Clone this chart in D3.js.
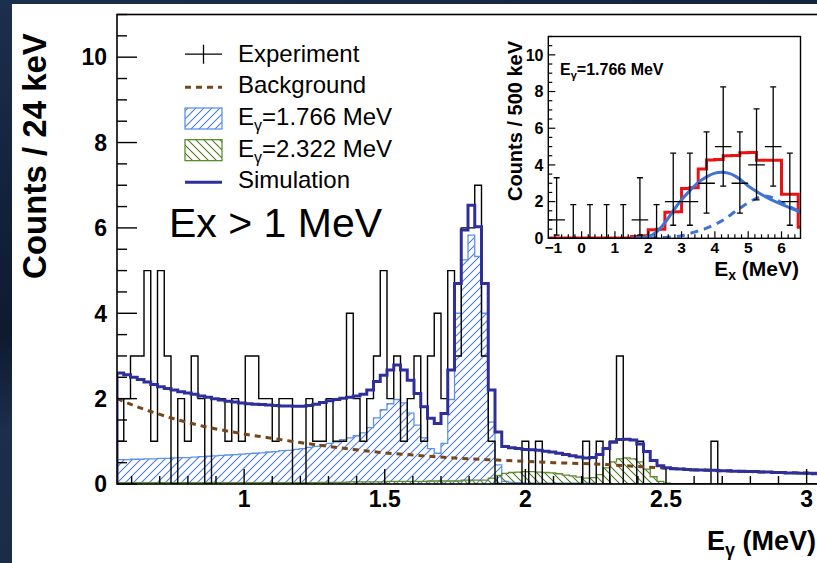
<!DOCTYPE html>
<html>
<head>
<meta charset="utf-8">
<script src="https://cdn.jsdelivr.net/npm/d3@7"></script>
<style>
  body { margin: 0; background: #fff; }
  svg { display: block; }
  text { font-family: "Liberation Sans", Arial, Helvetica, sans-serif; fill: #000; }
</style>
</head>
<body>
<svg id="chart" width="817" height="563"></svg>
<script>
// ---------- main spectrum: 24 keV bins starting at 0.548 MeV ----------
const binStart = 0.548;
const binWidth = 0.024;

const counts = [
  1,2,3,3,5,1,5,3,0,2, 1,3,2,0,2,2,1,2,1,3,
  3,2,2,1,2,2,0,0,2,1, 1,2,1,1,4,2,1,2,3,5,
  2,3,1,2,3,1,3,4,2,5, 3,6,6,7,3,1,0,0,0,0,
  1,0,1,0,0,0,0,0,0,1, 0,1,0,1,3,0,0,1,0,0,
  0,0,0,0,0,0,0,0,1,0, 0,0,0,0,0,0,0,0,0,0,
  0,0,0,0
];

const simulation = [
  2.60,2.56,2.50,2.45,2.39,2.33,2.28,2.24,2.20,2.16,
  2.13,2.10,2.06,2.03,2.00,1.97,1.94,1.92,1.90,1.88,
  1.87,1.86,1.85,1.84,1.83,1.83,1.82,1.82,1.84,1.87,
  1.91,1.95,1.98,2.01,2.03,2.06,2.10,2.20,2.40,2.55,
  2.67,2.79,2.67,2.43,2.12,1.81,1.54,1.42,1.65,2.67,
  4.70,5.95,6.53,6.03,4.70,2.20,1.22,0.88,0.85,0.83,
  0.81,0.80,0.79,0.77,0.75,0.72,0.69,0.66,0.63,0.61,
  0.62,0.69,0.83,0.98,1.04,1.05,1.03,0.94,0.76,0.55,
  0.43,0.38,0.36,0.35,0.34,0.33,0.33,0.32,0.32,0.31,
  0.31,0.30,0.30,0.29,0.29,0.28,0.28,0.27,0.27,0.26,
  0.26,0.25,0.25,0.24
];

const line1766 = [
  0.57,0.57,0.58,0.58,0.59,0.59,0.60,0.60,0.61,0.62,
  0.62,0.63,0.64,0.65,0.66,0.67,0.68,0.69,0.70,0.71,
  0.72,0.73,0.75,0.76,0.78,0.79,0.81,0.83,0.86,0.88,
  0.92,0.95,0.99,1.04,1.08,1.13,1.20,1.32,1.55,1.74,
  1.88,1.98,1.90,1.66,1.38,1.08,0.83,0.72,0.95,1.98,
  4.00,5.25,5.83,5.33,4.00,1.45,0.45,0.06,0.04,0.03,
  0.02,0.02,0.02,0.02,0.02,0.02,0.02,0.02,0.02,0.02,
  0.02,0,0,0,0,0,0,0,0,0,
  0,0,0,0,0,0,0,0,0,0,
  0,0,0,0,0,0,0,0,0,0,
  0,0,0,0
];

const line2322 = [
  0.03,0.03,0.03,0.03,0.03,0.03,0.03,0.03,0.03,0.03,
  0.03,0.03,0.03,0.03,0.03,0.03,0.03,0.03,0.03,0.03,
  0.03,0.03,0.03,0.03,0.03,0.03,0.03,0.03,0.03,0.03,
  0.04,0.04,0.04,0.04,0.05,0.05,0.05,0.05,0.05,0.05,
  0.06,0.06,0.06,0.06,0.06,0.06,0.07,0.07,0.07,0.07,
  0.07,0.09,0.09,0.09,0.09,0.14,0.20,0.25,0.27,0.28,
  0.29,0.29,0.28,0.27,0.26,0.24,0.21,0.19,0.16,0.14,
  0.15,0.22,0.38,0.52,0.59,0.61,0.59,0.52,0.35,0.17,
  0.06,0.02,0,0,0,0,0,0,0,0,
  0,0,0,0,0,0,0,0,0,0,
  0,0,0,0
];

// smooth background shape (energy in MeV, counts / 24 keV)
const bgEnergy = [0.548,0.60,0.65,0.70,0.75,0.80,0.85,0.90,0.95,1.00,1.05,1.10,1.15,1.20,
                  1.30,1.40,1.50,1.60,1.70,1.80,1.90,2.00,2.10,2.20,2.30,2.40,2.50,2.60,
                  2.70,2.80,2.90,3.044];
const bgCounts = [2.00,1.86,1.74,1.63,1.53,1.44,1.36,1.29,1.23,1.17,1.12,1.07,1.02,0.97,
                  0.88,0.80,0.73,0.68,0.63,0.59,0.56,0.53,0.50,0.48,0.45,0.41,0.37,0.335,
                  0.31,0.29,0.27,0.25];

const xTicksMain = [1, 1.5, 2, 2.5, 3];
const xTickLabelsMain = ["1", "1.5", "2", "2.5", "3"];
const yTicksMain = [0, 2, 4, 6, 8, 10];

// ---------- inset: excitation energy, 500 keV bins from -1 MeV ----------
const insetStart = -1;
const insetWidth = 0.5;
const insetCounts  = [1,0,0,0,0,1,0,2,2,3,5,3,4,5,2];
const insetErrLow  = [0.17,0,0,0,0,0.17,0,0.71,0.71,1.37,2.84,1.37,2.09,2.84,0.71];
const insetErrHigh = [3.30,1.84,1.84,1.84,1.84,3.30,1.84,4.64,4.64,5.80,8.25,5.80,7.05,8.25,4.64];

// summed model in 250 keV bins from -1 MeV
const fitStart = -1;
const fitWidth = 0.25;
const fitValues = [
  0.02,0.02,0.02,0.02,0.02,0.02,0.02,0.02,0.02,0.02,
  0.10,0.14,0.46,0.50,1.42,1.45,2.72,2.75,3.78,4.27,
  4.30,4.50,4.52,4.66,4.68,4.26,4.25,4.25,2.40,2.40,
  0.60
];

const feedE = [1.5,2.0,2.25,2.5,2.75,3.0,3.25,3.5,3.75,4.0,4.2,4.4,4.6,4.8,5.0,5.25,5.5,5.75,6.0,6.25,6.57];
const feedV = [0.0,0.1,0.35,0.85,1.5,2.1,2.6,3.05,3.35,3.55,3.6,3.55,3.4,3.15,2.85,2.55,2.28,2.05,1.85,1.66,1.42];
const tailE = [1.6,2.0,2.5,3.0,3.25,3.75,4.25,4.75,5.25,5.5,5.75,6.0,6.25,6.57];
const tailV = [0.0,0.01,0.05,0.14,0.27,0.55,1.0,1.64,2.18,2.3,2.2,1.95,1.72,1.45];

const xTicksInset = [-1, 0, 1, 2, 3, 4, 5, 6];
const xTickLabelsInset = ["\u22121", "0", "1", "2", "3", "4", "5", "6"];
const yTicksInset = [0, 2, 4, 6, 8, 10];

// ---------- colours ----------
const cSim = "#2f2f9c", cBg = "#74461a", cBlue = "#4a7ddc", cBlueEdge = "#5e92ea",
      cGreen = "#4f7a1f", cGreenEdge = "#5f8a30", cRed = "#ee1111", cFeed = "#3f74d6";

const svg = d3.select("#chart");
const W = 817, H = 563;
const defs = svg.append("defs");

// page backdrop
const g0 = defs.append("linearGradient").attr("id", "backdrop")
  .attr("x1", 0).attr("y1", 0).attr("x2", 0.3).attr("y2", 1);
[["0%", "#1d2f4e"], ["35%", "#12203a"], ["55%", "#0e1a2e"], ["70%", "#1c2e4c"], ["100%", "#1a2b46"]]
  .forEach(([o, c]) => g0.append("stop").attr("offset", o).attr("stop-color", c));
svg.append("rect").attr("width", W).attr("height", H).attr("fill", "url(#backdrop)");
svg.append("rect").attr("x", 12).attr("y", 4).attr("width", W - 12).attr("height", H - 4).attr("fill", "#fff");

// hatch patterns
function hatch(id, color, forward) {
  const p = defs.append("pattern").attr("id", id).attr("patternUnits", "userSpaceOnUse")
    .attr("width", 8).attr("height", 8);
  const d = forward ? "M-2,2 L2,-2 M0,8 L8,0 M6,10 L10,6" : "M-2,6 L2,10 M0,0 L8,8 M6,-2 L10,2";
  p.append("path").attr("d", d).attr("stroke", color).attr("stroke-width", 1.1).attr("fill", "none");
}
hatch("hatchBlue", cBlue, true);
hatch("hatchGreen", cGreen, false);

// ---------- main plot ----------
const frame = { left: 117, right: 819, top: 14.5, bottom: 484 };
const x = d3.scaleLinear().domain([binStart, binStart + binWidth * counts.length]).range([frame.left, frame.right]);
const y = d3.scaleLinear().domain([0, 11]).range([frame.bottom, frame.top]);
const edges = d3.range(counts.length + 1).map(i => binStart + i * binWidth);

defs.append("clipPath").attr("id", "mainClip").append("rect")
  .attr("x", frame.left).attr("y", frame.top).attr("width", frame.right - frame.left).attr("height", frame.bottom - frame.top);

function stepPoints(ed, vals) {
  const pts = [[ed[0], 0]];
  vals.forEach((v, i) => { pts.push([ed[i], v]); pts.push([ed[i + 1], v]); });
  pts.push([ed[ed.length - 1], 0]);
  return pts;
}
const mainLine = d3.line().x(d => x(d[0])).y(d => y(d[1]));
const mainArea = d3.area().x(d => x(d[0])).y0(y(0)).y1(d => y(d[1]));

const plot = svg.append("g").attr("clip-path", "url(#mainClip)");

// hatched components
plot.append("path").attr("d", mainArea(stepPoints(edges, line1766))).attr("fill", "url(#hatchBlue)");
plot.append("path").attr("d", mainLine(stepPoints(edges, line1766))).attr("fill", "none")
  .attr("stroke", cBlueEdge).attr("stroke-width", 1.3);
plot.append("path").attr("d", mainArea(stepPoints(edges, line2322))).attr("fill", "url(#hatchGreen)");
plot.append("path").attr("d", mainLine(stepPoints(edges, line2322))).attr("fill", "none")
  .attr("stroke", cGreenEdge).attr("stroke-width", 1.3);

// measured spectrum
plot.append("path").attr("d", mainLine(stepPoints(edges, counts))).attr("fill", "none")
  .attr("stroke", "#000").attr("stroke-width", 1.4);

// background
const bgLine = d3.line().curve(d3.curveMonotoneX).x(d => x(d[0])).y(d => y(d[1]));
plot.append("path").attr("d", bgLine(bgEnergy.map((e, i) => [e, bgCounts[i]]))).attr("fill", "none")
  .attr("stroke", cBg).attr("stroke-width", 3).attr("stroke-dasharray", "6,5");

// total simulation
plot.append("path").attr("d", mainLine(stepPoints(edges, simulation))).attr("fill", "none")
  .attr("stroke", cSim).attr("stroke-width", 3);

// frame
svg.append("rect").attr("x", frame.left).attr("y", frame.top)
  .attr("width", frame.right - frame.left).attr("height", frame.bottom - frame.top)
  .attr("fill", "none").attr("stroke", "#000").attr("stroke-width", 1.6);

// axes ticks
const axisG = svg.append("g").attr("stroke", "#000").attr("stroke-width", 1.4);
d3.range(0, 11.01, 0.5).forEach(v => {
  const major = yTicksMain.includes(v);
  axisG.append("line").attr("x1", frame.left).attr("x2", frame.left + (major ? 20 : 10))
    .attr("y1", y(v)).attr("y2", y(v));
});
d3.range(6, 31, 1).map(k => k / 10).forEach(v => {
  const major = xTicksMain.some(t => Math.abs(t - v) < 1e-6);
  axisG.append("line").attr("x1", x(v)).attr("x2", x(v))
    .attr("y1", frame.bottom).attr("y2", frame.bottom - (major ? 15 : 8));
});

// tick labels
yTicksMain.forEach(v => svg.append("text").attr("x", 107).attr("y", y(v) + 8.3)
  .attr("text-anchor", "end").attr("font-size", 23).attr("font-weight", "bold").text(v));
xTicksMain.forEach((v, i) => svg.append("text").attr("x", x(v)).attr("y", 507)
  .attr("text-anchor", "middle").attr("font-size", 23).attr("font-weight", "bold").text(xTickLabelsMain[i]));

// axis titles
svg.append("text").attr("transform", "translate(46,156) rotate(-90)").attr("text-anchor", "middle")
  .attr("font-size", 33).attr("font-weight", "bold").text("Counts / 24 keV");
const xt = svg.append("text").attr("x", 816).attr("y", 550).attr("text-anchor", "end")
  .attr("font-size", 27).attr("font-weight", "bold");
xt.append("tspan").text("E");
xt.append("tspan").attr("font-size", 18).attr("dy", 6).text("\u03b3");
xt.append("tspan").attr("dy", -6).text(" (MeV)");

// legend
const legend = svg.append("g");
const rowBase = r => 61.7 + 31.65 * r;
const symL = 185, symR = 222, txtX = 238;
legend.append("line").attr("x1", symL).attr("x2", symR).attr("y1", rowBase(0) - 7.5).attr("y2", rowBase(0) - 7.5)
  .attr("stroke", "#000").attr("stroke-width", 1.3);
legend.append("line").attr("x1", (symL + symR) / 2).attr("x2", (symL + symR) / 2)
  .attr("y1", rowBase(0) - 17).attr("y2", rowBase(0) + 2).attr("stroke", "#000").attr("stroke-width", 1.3);
legend.append("line").attr("x1", symL).attr("x2", symR).attr("y1", rowBase(1) - 6).attr("y2", rowBase(1) - 6)
  .attr("stroke", cBg).attr("stroke-width", 3).attr("stroke-dasharray", "6,5");
[[2, "hatchBlue", cBlueEdge], [3, "hatchGreen", cGreenEdge]].forEach(([r, pat, edge]) => {
  legend.append("rect").attr("x", symL).attr("y", rowBase(r) - 17).attr("width", symR - symL).attr("height", 21)
    .attr("fill", `url(#${pat})`).attr("stroke", edge).attr("stroke-width", 1.3);
});
legend.append("line").attr("x1", symL).attr("x2", symR).attr("y1", rowBase(4) - 6).attr("y2", rowBase(4) - 6)
  .attr("stroke", cSim).attr("stroke-width", 3);

const legendLabels = [["Experiment"], ["Background"], ["E", "\u03b3", "=1.766 MeV"], ["E", "\u03b3", "=2.322 MeV"], ["Simulation"]];
legendLabels.forEach((parts, r) => {
  const t = legend.append("text").attr("x", txtX).attr("y", rowBase(r)).attr("font-size", 24);
  if (parts.length === 1) t.text(parts[0]);
  else {
    t.append("tspan").text(parts[0]);
    t.append("tspan").attr("font-size", 16).attr("dy", 6).text(parts[1]);
    t.append("tspan").attr("dy", -6).text(parts[2]);
  }
});

svg.append("text").attr("x", 169).attr("y", 237).attr("font-size", 41).text("Ex > 1 MeV");

// ---------- inset ----------
const inset = { left: 548.3, right: 800.5, top: 36.5, bottom: 238.3 };
const xi = d3.scaleLinear().domain([-1, 6.57]).range([inset.left, inset.right]);
const yi = d3.scaleLinear().domain([0, 11]).range([inset.bottom, inset.top]);

svg.append("rect").attr("x", inset.left).attr("y", inset.top)
  .attr("width", inset.right - inset.left).attr("height", inset.bottom - inset.top).attr("fill", "#fff");
defs.append("clipPath").attr("id", "insetClip").append("rect")
  .attr("x", inset.left).attr("y", inset.top - 2).attr("width", inset.right - inset.left).attr("height", inset.bottom - inset.top + 2);

const ig = svg.append("g").attr("clip-path", "url(#insetClip)");
const fitEdges = d3.range(fitValues.length + 1).map(i => fitStart + i * fitWidth);
const insetLine = d3.line().x(d => xi(d[0])).y(d => yi(d[1]));
const fitPts = [[fitEdges[0], fitValues[0]]];
fitValues.forEach((v, i) => { fitPts.push([fitEdges[i], v]); fitPts.push([fitEdges[i + 1], v]); });
ig.append("path").attr("d", insetLine(fitPts)).attr("fill", "none").attr("stroke", cRed).attr("stroke-width", 3);

const smooth = d3.line().curve(d3.curveMonotoneX).x(d => xi(d[0])).y(d => yi(d[1]));
ig.append("path").attr("d", smooth(tailE.map((e, i) => [e, tailV[i]]))).attr("fill", "none")
  .attr("stroke", cFeed).attr("stroke-width", 3).attr("stroke-dasharray", "8,6");
ig.append("path").attr("d", smooth(feedE.map((e, i) => [e, feedV[i]]))).attr("fill", "none")
  .attr("stroke", cFeed).attr("stroke-width", 3);

// data points with error bars
const pg = ig.append("g").attr("stroke", "#000").attr("stroke-width", 1.3);
insetCounts.forEach((n, i) => {
  const lo = insetStart + i * insetWidth, hi = lo + insetWidth, c = (lo + hi) / 2;
  pg.append("line").attr("x1", xi(c)).attr("x2", xi(c)).attr("y1", yi(insetErrLow[i])).attr("y2", yi(insetErrHigh[i]));
  pg.append("line").attr("x1", xi(c) - 3).attr("x2", xi(c) + 3).attr("y1", yi(insetErrHigh[i])).attr("y2", yi(insetErrHigh[i]));
  pg.append("line").attr("x1", xi(c) - 3).attr("x2", xi(c) + 3).attr("y1", yi(insetErrLow[i])).attr("y2", yi(insetErrLow[i]));
  if (n > 0) pg.append("line").attr("x1", xi(lo)).attr("x2", xi(hi)).attr("y1", yi(n)).attr("y2", yi(n));
});

svg.append("rect").attr("x", inset.left).attr("y", inset.top)
  .attr("width", inset.right - inset.left).attr("height", inset.bottom - inset.top)
  .attr("fill", "none").attr("stroke", "#000").attr("stroke-width", 1.4);

const iax = svg.append("g").attr("stroke", "#000").attr("stroke-width", 1.2);
d3.range(0, 11.01, 0.5).forEach(v => {
  const major = yTicksInset.includes(v);
  iax.append("line").attr("x1", inset.left).attr("x2", inset.left + (major ? 7 : 4)).attr("y1", yi(v)).attr("y2", yi(v));
});
d3.range(-4, 33, 1).map(k => k / 5).filter(v => v > -1.001 && v < 6.57).forEach(v => {
  const major = xTicksInset.some(t => Math.abs(t - v) < 1e-6);
  iax.append("line").attr("x1", xi(v)).attr("x2", xi(v)).attr("y1", inset.bottom).attr("y2", inset.bottom - (major ? 7 : 4));
});
yTicksInset.forEach(v => svg.append("text").attr("x", 543.5).attr("y", yi(v) + 5.8).attr("text-anchor", "end")
  .attr("font-size", 16).attr("font-weight", "bold").text(v));
// the negative label is nudged right so it clears the "0" of the vertical axis
xTicksInset.forEach((v, i) => svg.append("text").attr("x", xi(v) + (v < 0 ? 5 : 0)).attr("y", 252.5)
  .attr("text-anchor", "middle").attr("font-size", 15.5).attr("font-weight", "bold").text(xTickLabelsInset[i]));

svg.append("text").attr("transform", "translate(522,121) rotate(-90)").attr("text-anchor", "middle")
  .attr("font-size", 20).attr("font-weight", "bold").text("Counts / 500 keV");
const ixt = svg.append("text").attr("x", 799).attr("y", 276).attr("text-anchor", "end")
  .attr("font-size", 21).attr("font-weight", "bold");
ixt.append("tspan").text("E");
ixt.append("tspan").attr("font-size", 14).attr("dy", 4).text("x");
ixt.append("tspan").attr("dy", -4).text(" (MeV)");

const il = svg.append("text").attr("x", 560).attr("y", 75).attr("font-size", 16).attr("font-weight", "bold");
il.append("tspan").text("E");
il.append("tspan").attr("font-size", 11).attr("dy", 4).text("\u03b3");
il.append("tspan").attr("dy", -4).text("=1.766 MeV");
</script>
</body>
</html>
